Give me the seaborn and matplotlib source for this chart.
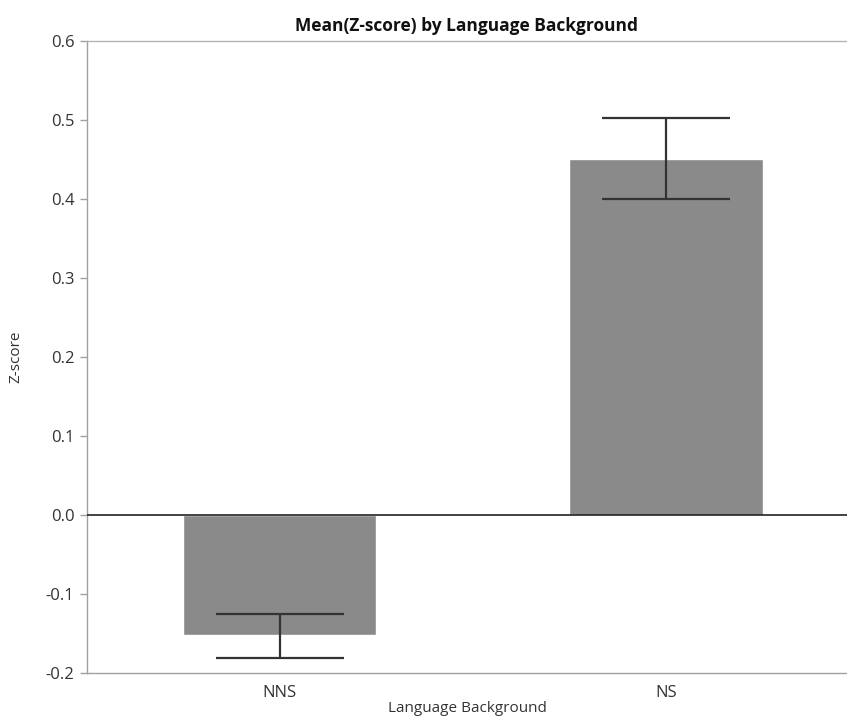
import matplotlib
matplotlib.use("Agg")
import matplotlib.pyplot as plt
import seaborn as sns
import pandas as pd

# Mean Z-score per language background, with error bar limits
groups = ["NNS", "NS"]
means = [-0.152, 0.451]
err_low = [-0.181, 0.400]
err_high = [-0.125, 0.502]
yticks = [-0.2, -0.1, 0.0, 0.1, 0.2, 0.3, 0.4, 0.5, 0.6]

df = pd.DataFrame({"Language Background": groups, "Z-score": means})

sns.set_theme(style="white")
plt.rcParams["font.family"] = ["Open Sans", "DejaVu Sans"]

fig = plt.figure(figsize=(8.47, 7.19), dpi=100)
ax = fig.add_axes([0.1027, 0.064, 0.8973, 0.879])

sns.barplot(data=df, x="Language Background", y="Z-score", color="#8a8a8a",
            saturation=1, width=0.5, errorbar=None, ax=ax, zorder=2)

lower = [m - lo for m, lo in zip(means, err_low)]
upper = [hi - m for m, hi in zip(means, err_high)]
ax.errorbar(range(len(groups)), means, yerr=[lower, upper], fmt="none",
            ecolor="#333333", elinewidth=1.6, capsize=46.4, capthick=1.6, zorder=3)

ax.axhline(0, color="#222222", linewidth=1.2, zorder=4)

ax.set_ylim(-0.2, 0.6)
ax.set_xlim(-0.498, 1.468)
ax.set_yticks(yticks)
ax.set_yticklabels([f"{t:.1f}" for t in yticks])

ax.spines["right"].set_visible(False)
ax.spines["left"].set_color("#a0a0a0")
ax.spines["bottom"].set_color("#a0a0a0")
ax.spines["top"].set_color("#b4b4b4")
ax.spines["top"].set_linestyle((0, (1.5, 1)))
for s in ["left", "bottom", "top"]:
    ax.spines[s].set_linewidth(1.0)

ax.tick_params(axis="y", which="major", left=True, length=5, width=1,
               color="#a0a0a0", labelsize=12, labelcolor="#333333", pad=4)
ax.tick_params(axis="x", bottom=False, labelsize=12, labelcolor="#333333", pad=3)

ax.set_xlabel("Language Background", fontsize=11, color="#333333", labelpad=0)
ax.set_ylabel("Z-score", fontsize=11, color="#333333", labelpad=16)
ax.set_title("Mean(Z-score) by Language Background", fontsize=12.5,
             fontweight="bold", color="#111111", pad=7)

fig.savefig("out.png", dpi=100)
